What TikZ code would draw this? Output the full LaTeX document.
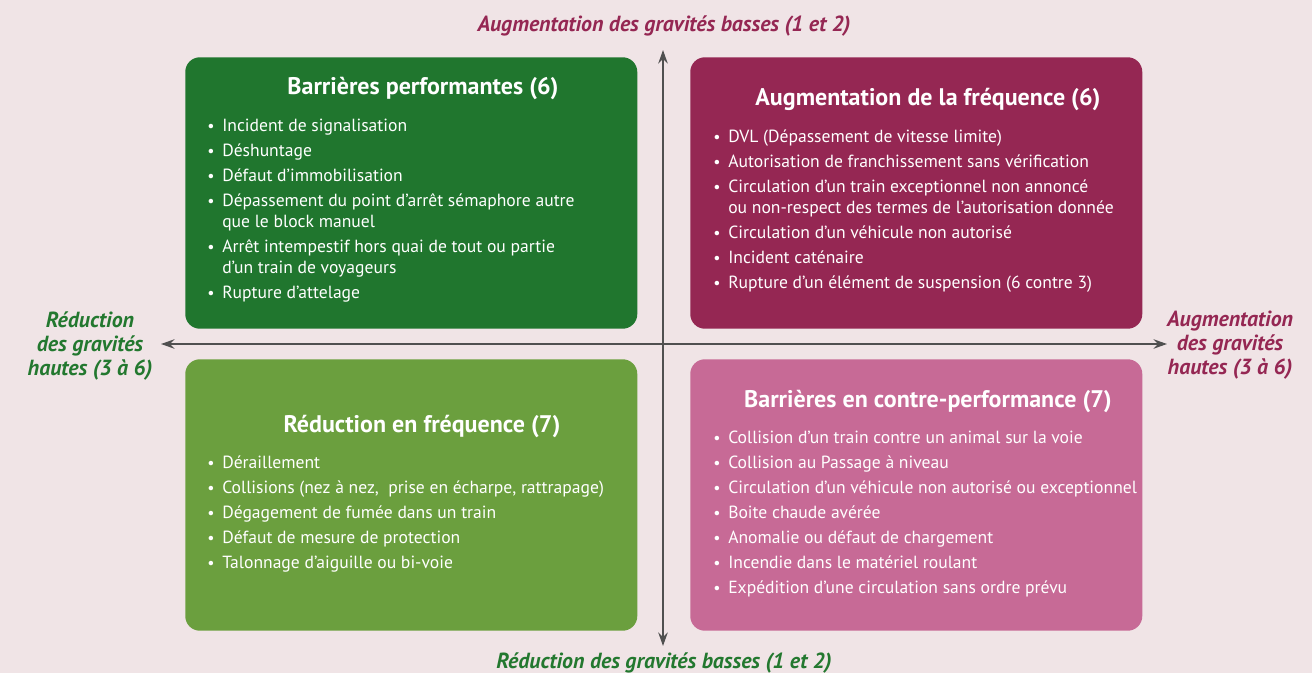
\documentclass[tikz,border=0pt]{standalone}
\usepackage{fontspec}
\setmainfont{PT Sans}
\usetikzlibrary{arrows.meta}
\definecolor{bg}{HTML}{F0E4E6}
\definecolor{dgreen}{HTML}{20762E}
\definecolor{maroon}{HTML}{952753}
\definecolor{lgreen}{HTML}{6B9F3E}
\definecolor{pink}{HTML}{C76A96}
\definecolor{axisgray}{HTML}{505050}
\definecolor{labgreen}{HTML}{23782F}
\tikzset{
  box/.style={rectangle, rounded corners=11pt, draw=none, anchor=north west,
    minimum width=339pt, minimum height=203.6pt, inner sep=0pt},
  boxtitle/.style={anchor=base, inner sep=0pt, text=white, font=\fontsize{18}{21}\selectfont\bfseries},
  itemtext/.style={anchor=base west, inner sep=0pt, text=white, font=\fontsize{13.2}{16}\selectfont},
  bul/.style={anchor=base, inner sep=0pt, text=white, font=\fontsize{12}{14}\selectfont},
  axislabel/.style={inner sep=0pt, font=\fontsize{16.4}{18}\selectfont\bfseries\itshape, align=center},
  axisline/.style={draw=axisgray, line width=1.6pt, {Stealth[length=10pt,width=7pt]}-{Stealth[length=10pt,width=7pt]}}
}
\begin{document}
\begin{tikzpicture}[x=0.75pt,y=-0.75pt]
\useasboundingbox[fill=bg] (0,0) rectangle (1312,673);

% boxes
\node[box, fill=dgreen] (tl) at (185,57) {};
\node[box, fill=maroon] (tr) at (690,57) {};
\node[box, fill=lgreen] (bl) at (185,359) {};
\node[box, fill=pink]   (br) at (690,359) {};

% axes
\coordinate (axn) at (663,50);
\coordinate (axs) at (663,646);
\coordinate (axw) at (161,344);
\coordinate (axe) at (1167,344);
\draw[axisline] (axs) -- (axn);
\draw[axisline] (axw) -- (axe);

% axis labels
\node[axislabel, text=maroon, anchor=base] (labn) at (664,32) {Augmentation des gravités basses (1 et 2)};
\node[axislabel, text=labgreen, anchor=base] (labs) at (664,668) {Réduction des gravités basses (1 et 2)};
\node[axislabel, text=labgreen, anchor=north] (labw) at (90,311) {Réduction\\des gravités\\hautes (3 à 6)};
\node[axislabel, text=maroon, anchor=north] (labe) at (1230,311) {Augmentation\\des gravités\\hautes (3 à 6)};

% top-left
\node[boxtitle] (tlt) at (423,95) {Barrières performantes (6)};
\foreach \n/\y in {1/132,2/157,3/182,4/207,5/253,6/299}
  \node[bul] (tlb\n) at (211,\y) {•};
\node[itemtext] (tl1) at (222,132) {Incident de signalisation};
\node[itemtext] (tl2) at (222,157) {Déshuntage};
\node[itemtext] (tl3) at (222,182) {Défaut d’immobilisation};
\node[itemtext] (tl4) at (222,207) {Dépassement du point d’arrêt sémaphore autre};
\node[itemtext] (tl4b) at (222,228) {que le block manuel};
\node[itemtext] (tl5) at (222,253) {Arrêt intempestif hors quai de tout ou partie};
\node[itemtext] (tl5b) at (222,274) {d’un train de voyageurs};
\node[itemtext] (tl6) at (222,299) {Rupture d’attelage};

% top-right
\node[boxtitle] (trt) at (928,106) {Augmentation de la fréquence (6)};
\foreach \n/\y in {1/143,2/168,3/193,4/239,5/264,6/289}
  \node[bul] (trb\n) at (717,\y) {•};
\node[itemtext] (tr1) at (728,143) {DVL (Dépassement de vitesse limite)};
\node[itemtext] (tr2) at (728,168) {Autorisation de franchissement sans vérification};
\node[itemtext] (tr3) at (728,193) {Circulation d’un train exceptionnel non annoncé};
\node[itemtext] (tr3b) at (728,214) {ou non-respect des termes de l’autorisation donnée};
\node[itemtext] (tr4) at (728,239) {Circulation d’un véhicule non autorisé};
\node[itemtext] (tr5) at (728,264) {Incident caténaire};
\node[itemtext] (tr6) at (728,289) {Rupture d’un élément de suspension (6 contre 3)};

% bottom-left
\node[boxtitle] (blt) at (422,432) {Réduction en fréquence (7)};
\foreach \n/\y in {1/468,2/493,3/518,4/543,5/568}
  \node[bul] (blb\n) at (211,\y) {•};
\node[itemtext] (bl1) at (222,468) {Déraillement};
\node[itemtext] (bl2) at (222,493) {Collisions (nez à nez,\ \ prise en écharpe, rattrapage)};
\node[itemtext] (bl3) at (222,518) {Dégagement de fumée dans un train};
\node[itemtext] (bl4) at (222,543) {Défaut de mesure de protection};
\node[itemtext] (bl5) at (222,568) {Talonnage d’aiguille ou bi-voie};

% bottom-right
\node[boxtitle] (brt) at (928,407) {Barrières en contre-performance (7)};
\foreach \n/\y in {1/443,2/468,3/493,4/518,5/543,6/568,7/593}
  \node[bul] (brb\n) at (717,\y) {•};
\node[itemtext] (br1) at (728,443) {Collision d’un train contre un animal sur la voie};
\node[itemtext] (br2) at (728,468) {Collision au Passage à niveau};
\node[itemtext] (br3) at (728,493) {Circulation d’un véhicule non autorisé ou exceptionnel};
\node[itemtext] (br4) at (728,518) {Boite chaude avérée};
\node[itemtext] (br5) at (728,543) {Anomalie ou défaut de chargement};
\node[itemtext] (br6) at (728,568) {Incendie dans le matériel roulant};
\node[itemtext] (br7) at (728,593) {Expédition d’une circulation sans ordre prévu};
\end{tikzpicture}
\end{document}
